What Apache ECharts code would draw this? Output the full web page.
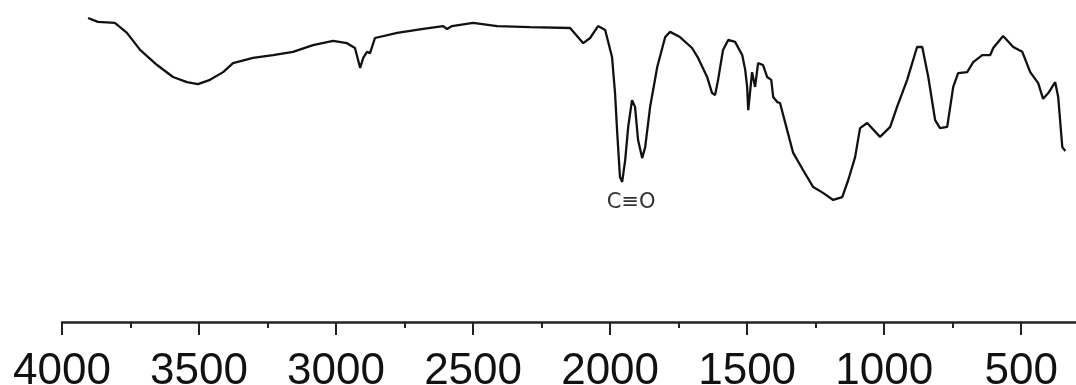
<!DOCTYPE html>
<html>
<head>
<meta charset="utf-8">
<script src="https://cdn.jsdelivr.net/npm/echarts@6/dist/echarts.min.js"></script>
<style>
html,body{margin:0;padding:0;background:#fff;}
#c{width:1076px;height:385px;}
</style>
</head>
<body>
<div id="c"></div>
<script>
// Wavenumber (cm^-1)
const wavenumbers = [3905,3869,3807,3763,3715,3653,3595,3544,3504,3460,3412,3376,3303,3230,3157,3084,3011,2960,2931,2912,2901,2887,2876,2858,2777,2682,2609,2595,2577,2500,2412,2292,2146,2124,2098,2073,2044,2018,1993,1982,1974,1964,1956,1945,1934,1920,1909,1898,1883,1872,1854,1828,1799,1781,1745,1701,1679,1646,1628,1617,1606,1588,1569,1544,1518,1507,1500,1496,1482,1471,1460,1442,1427,1412,1405,1390,1380,1354,1332,1296,1259,1223,1186,1153,1131,1106,1088,1062,1015,978,953,916,880,861,839,814,796,770,748,730,697,675,642,613,602,566,529,496,467,438,420,401,376,365,350,339];
// Transmittance (arbitrary units)
const transmittance = [94.4,93.2,92.9,89.8,84.5,79.8,76.1,74.5,73.9,75.2,77.6,80.4,82.0,82.9,83.9,86.0,87.3,86.6,85.1,78.9,82.0,83.9,83.5,88.2,89.8,91.0,91.9,91.0,91.9,92.9,91.9,91.6,91.3,89.1,86.6,88.2,91.9,90.7,82.3,71.1,58.7,45.0,43.5,50.3,60.6,68.9,66.8,56.5,50.9,54.3,66.8,79.2,88.5,90.1,88.5,85.1,82.0,76.1,71.1,70.5,75.2,84.5,87.6,87.0,82.9,78.3,73.0,65.8,77.6,73.0,80.4,79.8,76.1,75.2,69.9,68.3,68.0,59.6,52.5,47.2,41.9,40.1,37.9,38.8,44.1,51.2,60.2,61.8,57.5,60.6,66.8,75.2,85.4,85.4,76.1,62.7,60.2,60.6,73.0,77.3,77.6,80.7,82.9,82.9,85.1,88.8,85.4,83.9,77.6,74.2,69.3,71.1,74.5,69.9,54.3,53.1];
// Tick values
const majorTicks = [4000,3500,3000,2500,2000,1500,1000,500];
const minorTicks = [3750,3250,2750,2250,1750,1250,750];
// Annotation
const annotationText = 'C≡O';
const annotationPos = [1923, 37.0];

const data = wavenumbers.map((w, i) => [w, transmittance[i]]);

const chart = echarts.init(document.getElementById('c'), null, {renderer: 'canvas'});
chart.setOption({
  backgroundColor: '#ffffff',
  animation: false,
  grid: {left: 62, right: 0, top: 0, bottom: 63, containLabel: false, outerBoundsMode: 'none'},
  xAxis: [{
    type: 'value',
    inverse: true,
    min: 300,
    max: 4000,
    position: 'bottom',
    splitLine: {show: false},
    axisLine: {show: true, lineStyle: {color: '#222', width: 2.5}},
    axisTick: {show: true, customValues: majorTicks, length: 13, inside: false, lineStyle: {color: '#222', width: 2}},
    axisLabel: {show: true, customValues: majorTicks, margin: 28, fontSize: 44, color: '#111', fontFamily: 'Liberation Sans, Arial, sans-serif', formatter: v => String(v)}
  }, {
    type: 'value',
    inverse: true,
    min: 300,
    max: 4000,
    position: 'bottom',
    offset: 0,
    splitLine: {show: false},
    axisLine: {show: false},
    axisTick: {show: true, customValues: minorTicks, length: 6, inside: false, lineStyle: {color: '#222', width: 2}},
    axisLabel: {show: false}
  }],
  yAxis: {
    type: 'value', min: 0, max: 100, show: false
  },
  series: [{
    type: 'line',
    xAxisIndex: 0,
    data: data,
    symbol: 'none',
    smooth: false,
    lineStyle: {color: '#111', width: 2.3},
    markPoint: {
      symbol: 'circle',
      symbolSize: 0,
      data: [{coord: annotationPos, value: annotationText}],
      label: {show: true, position: 'inside', formatter: annotationText, fontSize: 21, color: '#333', fontFamily: 'DejaVu Sans, sans-serif'}
    }
  }]
});
</script>
</body>
</html>
